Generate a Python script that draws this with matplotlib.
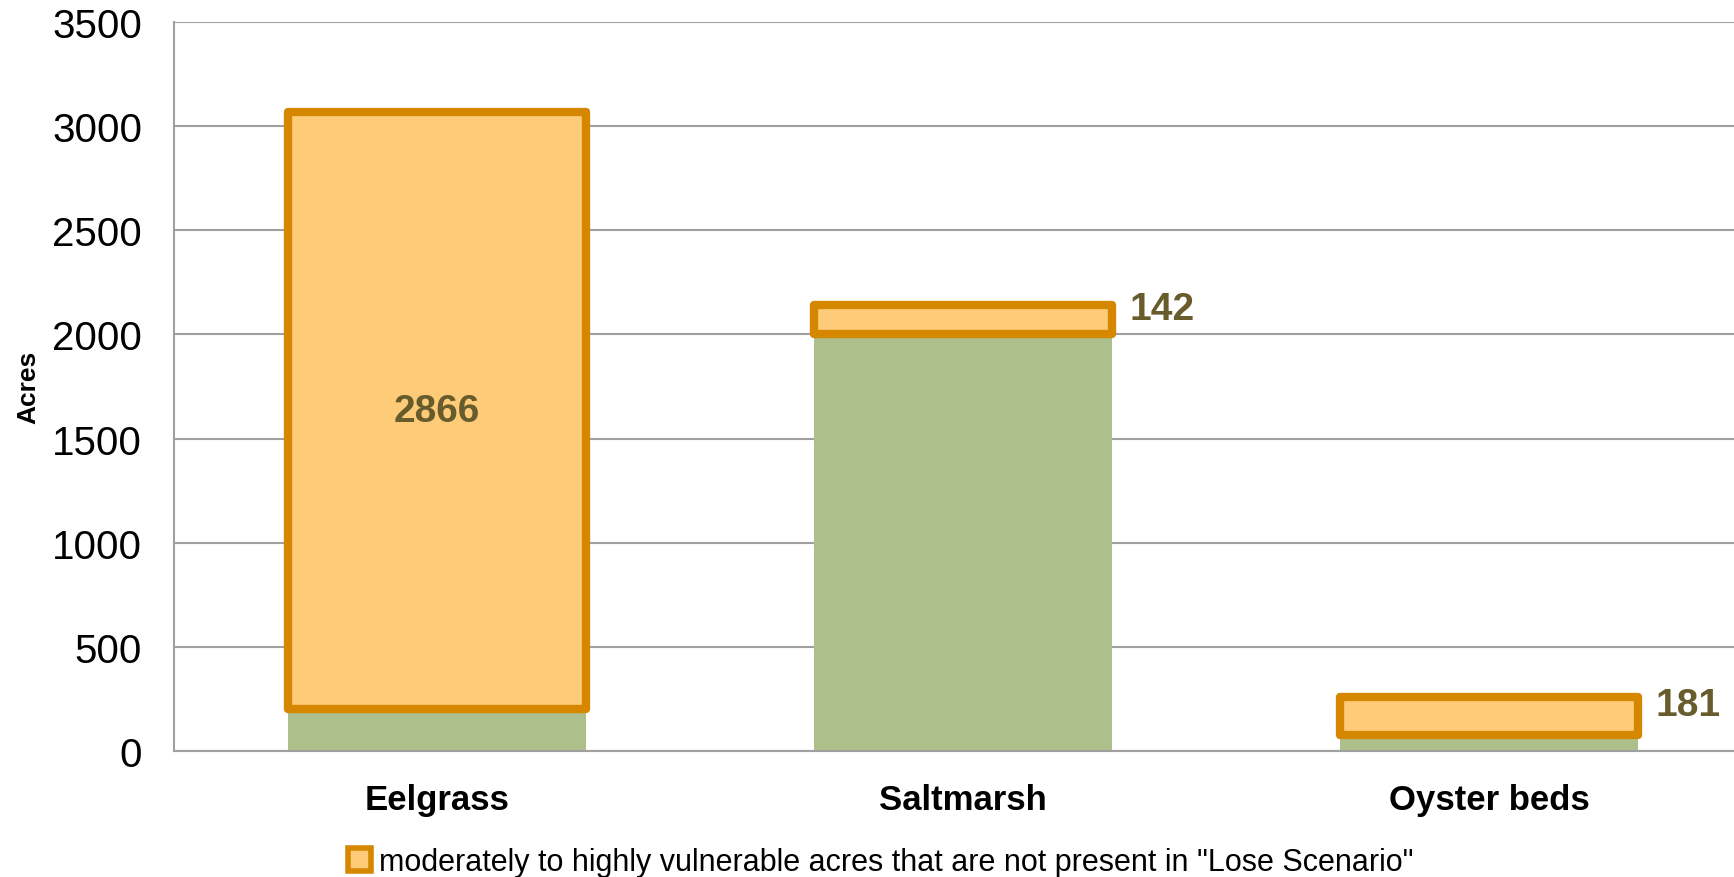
import matplotlib.pyplot as plt
from matplotlib.patches import Patch

# habitat acreage, base (green) plus vulnerable acres on top (orange)
categories = ["Eelgrass", "Saltmarsh", "Oyster beds"]
base_acres = [200, 2000, 77]
vulnerable_acres = [2866, 142, 181]
legend_label = 'moderately to highly vulnerable acres that are not present in "Lose Scenario"'

green = "#ADBF8A"
orange_fill = "#FECC78"
orange_edge = "#D68700"
label_color = "#685B2C"

plt.rcParams['font.family'] = ['Liberation Sans', 'DejaVu Sans']

fig = plt.figure(figsize=(17.34, 8.78), dpi=100)
ax = fig.add_axes([174 / 1734, 126 / 878, 1578 / 1734, 729 / 878])

x = list(range(len(categories)))
width = 0.568

ax.bar(x, base_acres, width=width, color=green, zorder=2)
top = ax.bar(x, vulnerable_acres, width=width, bottom=base_acres,
             color=orange_fill, edgecolor=orange_edge, linewidth=6,
             joinstyle="round", zorder=3)

# value labels: inside the tall bar, beside the short ones
for i, (b, v) in enumerate(zip(base_acres, vulnerable_acres)):
    mid = b + v / 2
    if v > 1000:
        ax.text(i, mid, str(v), ha="center", va="center", fontsize=28,
                fontweight="bold", color=label_color, zorder=4)
    else:
        ax.annotate(str(v), (i + width / 2, mid), xytext=(12, 8),
                    textcoords="offset points", ha="left", va="center",
                    fontsize=28, fontweight="bold", color=label_color)

ax.set_xlim(-0.5, 2.5)
ax.set_ylim(0, 3500)
ax.set_yticks(range(0, 3501, 500))
ax.set_xticks(x)
ax.set_xticklabels(categories, fontsize=25, fontweight="bold")
ax.tick_params(axis="y", length=0, pad=23, labelsize=29)
ax.tick_params(axis="x", length=0, pad=23)

ax.grid(axis="y", color="#A0A0A0", linewidth=1.5, zorder=0)
for s in ["top", "right"]:
    ax.spines[s].set_visible(False)
for s in ["left", "bottom"]:
    ax.spines[s].set_color("#A0A0A0")
    ax.spines[s].set_linewidth(1.5)

fig.text(28 / 1734, 1 - 387 / 878, "Acres", rotation=90, ha="center",
         va="center", fontsize=19, fontweight="bold")

handle = Patch(facecolor=orange_fill, edgecolor=orange_edge, linewidth=4,
               joinstyle="round")
fig.legend([handle], [legend_label], loc="center",
           bbox_to_anchor=(881 / 1734, 1 - 863 / 878), frameon=False,
           fontsize=22, handlelength=0.75, handleheight=0.75,
           handletextpad=0.25)

fig.savefig("out.png", dpi=100)
